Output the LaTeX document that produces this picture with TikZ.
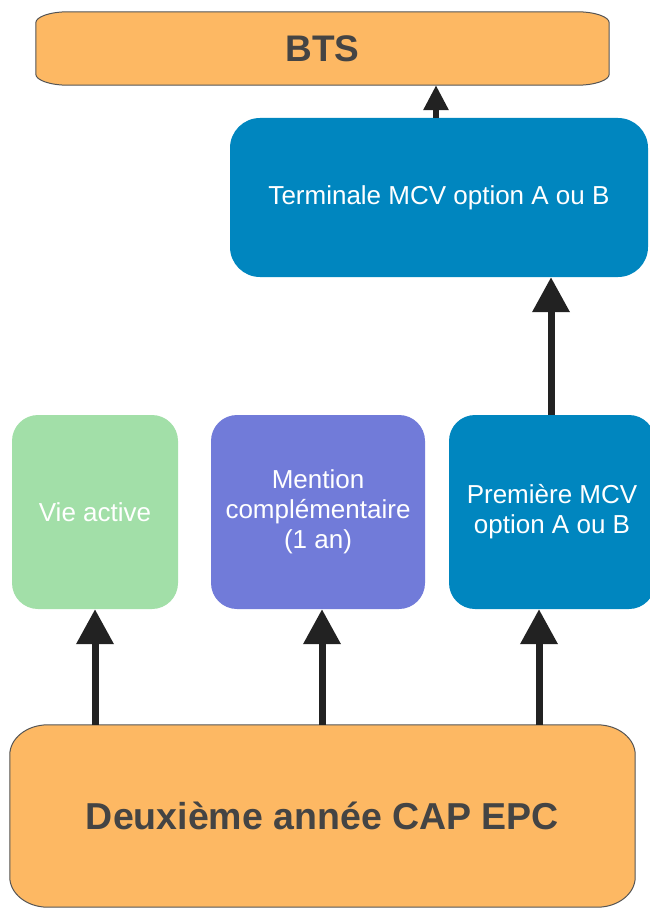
\documentclass[tikz,border=0pt]{standalone}
\usepackage{fontspec}
\setmainfont{Liberation Sans}
\usetikzlibrary{arrows.meta,backgrounds}
\definecolor{orng}{HTML}{FDB863}
\definecolor{blu}{HTML}{0086BF}
\definecolor{grn}{HTML}{A2DFA8}
\definecolor{prp}{HTML}{717BD9}
\definecolor{dtxt}{HTML}{444444}
\definecolor{bord}{HTML}{555555}
\definecolor{arrc}{HTML}{222222}
\newcommand\ellbox[3]{%
 \filldraw[fill=orng,draw=bord,line width=1pt]
  ([xshift=#2]#1.north west) -- ([xshift=-#2]#1.north east)
  .. controls ([xshift=-0.45*#2]#1.north east) and ([yshift=-0.45*#3]#1.north east) .. ([yshift=-#3]#1.north east)
  -- ([yshift=#3]#1.south east)
  .. controls ([yshift=0.45*#3]#1.south east) and ([xshift=-0.45*#2]#1.south east) .. ([xshift=-#2]#1.south east)
  -- ([xshift=#2]#1.south west)
  .. controls ([xshift=0.45*#2]#1.south west) and ([yshift=0.45*#3]#1.south west) .. ([yshift=#3]#1.south west)
  -- ([yshift=-#3]#1.north west)
  .. controls ([yshift=-0.45*#3]#1.north west) and ([xshift=0.45*#2]#1.north west) .. cycle;}
\begin{document}
\begin{tikzpicture}[x=1pt,y=-1pt,
  box/.style={rectangle,inner sep=0pt,align=center,text=white,
    font=\fontsize{26}{30}\selectfont},
  orbox/.style={box,text=dtxt},
  bigarr/.style={draw=arrc,line width=7pt,-{Triangle[width=36pt,length=35pt]},fill=arrc},
  smallarr/.style={draw=arrc,line width=6pt,-{Triangle[width=24pt,length=25pt]},fill=arrc}]
\useasboundingbox (0,0) rectangle (649,909);
\node[orbox,minimum width=573pt,minimum height=73pt,
  font=\fontsize{37}{40}\selectfont\bfseries] (bts) at (322.5,48.5) {BTS};
\node[box,fill=blu,rounded corners=30pt,minimum width=418pt,minimum height=159pt] (term) at (439,197.5) {Terminale MCV option A ou B};
\node[box,fill=grn,rounded corners=26pt,minimum width=166pt,minimum height=194pt] (vie) at (95,512) {Vie active};
\node[box,fill=prp,rounded corners=26pt,minimum width=214pt,minimum height=194pt] (ment) at (318,512) {Mention\\complémentaire\\(1 an)};
\node[box,fill=blu,rounded corners=26pt,minimum width=206pt,minimum height=194pt] (prem) at (552,512) {Première MCV\\option A ou B};
\node[orbox,minimum width=625pt,minimum height=182pt,
  font=\fontsize{37.5}{40}\selectfont\bfseries] (cap) at (322.5,816) {Deuxième année CAP EPC};
\begin{scope}[on background layer]
\ellbox{bts}{32pt}{11pt}
\ellbox{cap}{38pt}{30pt}
\end{scope}
\coordinate (xa) at (95,0);
\coordinate (xb) at (322,0);
\coordinate (xc) at (539,0);
\coordinate (xd) at (551,0);
\coordinate (xe) at (436,0);
\draw[bigarr] (cap.north -| xa) -- (vie.south -| xa);
\draw[bigarr] (cap.north -| xb) -- (ment.south -| xb);
\draw[bigarr] (cap.north -| xc) -- (prem.south -| xc);
\draw[bigarr] (prem.north -| xd) -- (term.south -| xd);
\draw[smallarr] (term.north -| xe) -- (bts.south -| xe);
\end{tikzpicture}
\end{document}
